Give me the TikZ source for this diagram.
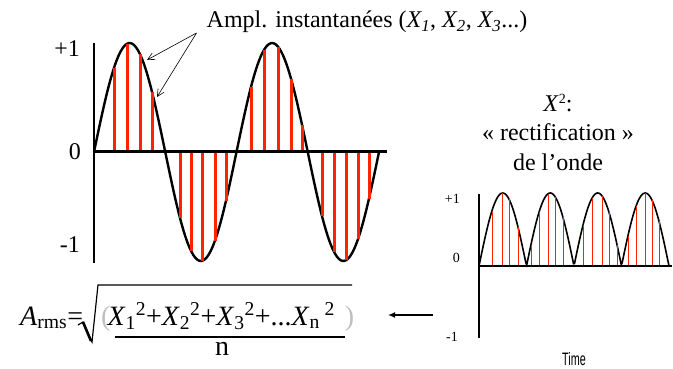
\documentclass[tikz,border=0pt]{standalone}
\usepackage{fontspec}
\setmainfont{Liberation Serif}
\newfontfamily\narrowsans[FakeStretch=0.6]{Liberation Sans}
\usetikzlibrary{arrows.meta}
\definecolor{barred}{RGB}{255,36,0}

\begin{document}
\begin{tikzpicture}[x=1pt,y=-1pt,
  lab/.style={inner sep=0pt,font=\fontsize{24}{29.5}\selectfont},
  small/.style={inner sep=0pt,font=\fontsize{14}{16}\selectfont},
  eq/.style={inner sep=0pt,font=\fontsize{28}{34}\selectfont},
  wave/.style={line width=2.4pt},
  bar/.style={barred,line width=3pt},
  thinbar/.style={barred,line width=1pt},
  pointer/.style={-{Straight Barb[length=7pt,width=7pt]},line width=0.6pt}]
\useasboundingbox (0,0) rectangle (673,369);
% signal
\draw[line width=2pt] (94,43) -- (94,263);
\draw[wave] plot[domain=94:379,samples=150,smooth] (\x,{152-109*sin(2.5263*(\x-94))});
\foreach \x in {114,127,140,152,180,191,202,215,226,251,264,278,291,302,322,334,346,358,369}
  \draw[bar] (\x,152) -- (\x,{152-109*sin(2.5263*(\x-94))});
\draw[line width=3pt] (94,152) -- (387,152);
\node[lab,anchor=base east] (yp) at (80,57) {+1};
\node[lab,anchor=base east] (yz) at (81,160) {0};
\node[lab,anchor=base east] (ym) at (80,252) {-1};
\node[lab,anchor=base] (ampl) at (367,28) {Ampl. instantanées (\textit{X\textsubscript{1}}, \textit{X\textsubscript{2}}, \textit{X\textsubscript{3}}...)};
\coordinate (tail) at ([xshift=-10pt,yshift=-5pt]ampl.base west);
\coordinate (sa) at (147,60); \coordinate (sb) at (157,97);
\draw[pointer] (tail) -- (sa); \draw[pointer] (tail) -- (sb);
% squared signal
\node[lab,align=center] (rect) at (558,132) {\textit{X}{\fontsize{14}{14}\selectfont\raisebox{8pt}{2}}:\\« rectification »\\de l’onde};
\draw[line width=1.5pt] (479,194) -- (479,338);
\draw[line width=1.6pt] plot[domain=479:669,samples=200] (\x,{266-73*abs(sin(3.7895*(\x-479)))});
\foreach \x in {492,502,509,518,531,539,548,555,563,583,592,602,609,617,628,636,645,652,659}
  \draw[thinbar] (\x,266) -- (\x,{266-73*abs(sin(3.7895*(\x-479)))});
\draw[line width=2pt] (479,266) -- (672,266);
\node[small,anchor=base east] (sp) at (460,203) {+1};
\node[small,anchor=base east] (sz) at (460,262) {0};
\node[small,anchor=base east] (sm) at (458,341) {-1};
\node[inner sep=0pt,anchor=base,font=\narrowsans\fontsize{18}{20}\selectfont] (time) at (574,365) {Time};
% rms formula
\node[eq,anchor=base west] (arms) at (20,325) {\textit{A}\textsubscript{rms}=};
\node[eq,anchor=base west] (num) at (101,325) {\textcolor{gray!50}{(}\hspace{-3pt}\textit{X}\textsubscript{1}\textsuperscript{2}+\textit{X}\textsubscript{2}\textsuperscript{2}+\textit{X}\textsubscript{3}\textsuperscript{2}+...\textit{X}\textsubscript{n}\,\textsuperscript{2}\hspace{10pt}\textcolor{gray!50}{)}};
\node[eq,anchor=base] (den) at (222,355) {n};
\draw[line width=2pt] (115,337) -- (345,337);
\draw[line width=1.2pt] (78,325) -- (83,322) -- (92,342) -- (98,285) -- (352,285);
\draw[line width=2.6pt] (83,322) -- (91,341);
\coordinate (from) at (433,315); \coordinate (to) at (388,315);
\draw[-{Latex[length=7pt,width=6pt]},line width=2pt] (from) -- (to);
\end{tikzpicture}
\end{document}
